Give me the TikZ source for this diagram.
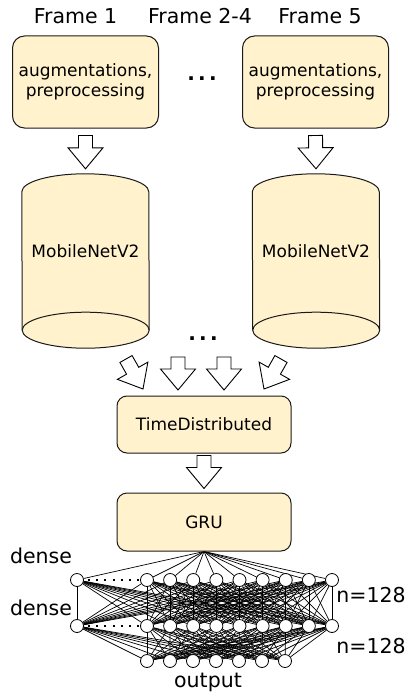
\documentclass[tikz,border=0pt]{standalone}
\usepackage{fontspec}
\setmainfont{DejaVu Sans}
\usetikzlibrary{calc,backgrounds}
\definecolor{boxfill}{HTML}{FFF2CC}
\definecolor{boxline}{HTML}{1A1A1A}

% cylinder outline drawn behind a named node: dome on top, full ellipse at the bottom
\newcommand\cylbody[1]{%
  \begin{scope}[on background layer]
    \filldraw[draw=boxline, fill=boxfill, line width=1pt]
      ([yshift=-18pt]#1.north west)
      arc[start angle=180, end angle=0, x radius=63.5pt, y radius=18pt]
      -- ([yshift=18pt]#1.south east)
      arc[start angle=0, end angle=-180, x radius=63.5pt, y radius=18pt]
      -- cycle;
    \draw[draw=boxline, line width=1pt] ([yshift=18pt]#1.south east)
      arc[start angle=0, end angle=180, x radius=63.5pt, y radius=18pt];
  \end{scope}}

\begin{document}
\begin{tikzpicture}[x=1pt, y=-1pt,
  title/.style={font=\fontsize{20.5}{24}\selectfont, anchor=base, inner sep=0pt},
  lbl/.style={font=\fontsize{20.5}{24}\selectfont, anchor=base, inner sep=0pt},
  ellip/.style={font=\fontsize{20}{24}\selectfont\bfseries, anchor=base, inner sep=0pt},
  stage/.style={draw=boxline, fill=boxfill, line width=1pt, align=center,
    font=\fontsize{17}{19.5}\selectfont, inner sep=0pt},
  cylnode/.style={minimum width=127pt, minimum height=174pt, inner sep=0pt},
  neuron/.style={circle, draw=black, fill=white, minimum size=13pt, inner sep=0pt, line width=0.8pt},
  wire/.style={line width=0.7pt, black},
  dotline/.style={line width=2pt, dash pattern=on 2pt off 6.2pt, dash phase=-4pt},
  blockarrow/.style={draw=black, fill=white, line width=0.9pt, line join=miter,
    to path={let \p1=(\tikztostart), \p2=(\tikztotarget),
      \n1={atan2(\y2-\y1,\x2-\x1)}, \n2={veclen(\x2-\x1,\y2-\y1)-21pt} in
      ($(\p1)+(\n1+90:7pt)$)
      -- ($(\p1)+(\n1:\n2)+(\n1+90:7pt)$)
      -- ($(\p1)+(\n1:\n2)+(\n1+90:17.5pt)$)
      -- (\p2)
      -- ($(\p1)+(\n1:\n2)+(\n1-90:17.5pt)$)
      -- ($(\p1)+(\n1:\n2)+(\n1-90:7pt)$)
      -- ($(\p1)+(\n1-90:7pt)$) -- cycle}},
]
\useasboundingbox (0,0) rectangle (414,693);

% frame headings
\node[title] (f1) at (75.5,24) {Frame 1};
\node[title] (f24) at (200,24) {Frame 2-4};
\node[title] (f5) at (320,24) {Frame 5};

% preprocessing stages
\node[stage, rounded corners=12pt, minimum width=146pt, minimum height=92pt] (pre1) at (85.5,82)
  {augmentations,\\preprocessing};
\node[stage, rounded corners=12pt, minimum width=146pt, minimum height=92pt] (pre5) at (315.5,82)
  {augmentations,\\preprocessing};
\node[ellip] (dots1) at (202,81) {.\hspace{3.2pt}.\hspace{3.2pt}.};

% backbones
\node[cylnode] (cyl1) at (85.5,261) {};
\node[cylnode] (cyl5) at (316,261) {};
\cylbody{cyl1}
\cylbody{cyl5}
\node[font=\fontsize{17}{20}\selectfont, inner sep=0pt] (cyl1t) at ([yshift=10pt]cyl1.center) {MobileNetV2};
\node[font=\fontsize{17}{20}\selectfont, inner sep=0pt] (cyl5t) at ([yshift=10pt]cyl5.center) {MobileNetV2};
\node[ellip] (dots2) at (203,340) {.\hspace{3.2pt}.\hspace{3.2pt}.};

% sequence model
\node[stage, rounded corners=10pt, minimum width=174pt, minimum height=57pt] (td) at (204,424.5) {TimeDistributed};
\node[stage, rounded corners=10pt, minimum width=174pt, minimum height=58pt] (gru) at (204,522) {GRU};

% block arrows
\draw[blockarrow] ([yshift=-7pt]pre1.south) to ([yshift=5pt]cyl1.north);
\draw[blockarrow] ([yshift=-7pt]pre5.south) to ([yshift=5pt]cyl5.north);

\coordinate (ta) at (126,359);  \coordinate (ha) at (143,389);
\coordinate (tb) at (178,357);  \coordinate (hb) at (178,390);
\coordinate (tc) at (224,357);  \coordinate (hc) at (224,390);
\coordinate (tdd) at (281,359); \coordinate (hd) at (264,389);
\draw[blockarrow] (ta) to (ha);
\draw[blockarrow] (tb) to (hb);
\draw[blockarrow] (tc) to (hc);
\draw[blockarrow] (tdd) to (hd);

\draw[blockarrow] ([yshift=-2pt]td.south) to ([yshift=4pt]gru.north);

% dense head
\node[neuron] (a0) at (77,580) {};
\node[neuron] (b0) at (77,626) {};
\foreach \i in {1,...,9} {
  \node[neuron] (a\i) at ({147+23.125*(\i-1)},580) {};
  \node[neuron] (b\i) at ({147+23.125*(\i-1)},626) {};
}
\foreach \i in {1,...,7}
  \node[neuron] (c\i) at ({147+23*(\i-1)},661) {};

\begin{scope}[on background layer]
  \foreach \i in {0,...,9}
    \draw[wire] (gru.south) -- (a\i);
  \foreach \i in {0,...,9}
    \foreach \j in {0,...,9}
      \draw[wire] (a\i) -- (b\j);
  \foreach \i in {0,...,9}
    \foreach \j in {1,...,7}
      \draw[wire] (b\i) -- (c\j);
\end{scope}

\draw[dotline] (a0) -- (a1);
\draw[dotline] (b0) -- (b1);

\node[lbl] (ld1) at (41,563) {dense};
\node[lbl] (ld2) at (41,615) {dense};
\node[lbl] (ln1) at (371,602) {n=128};
\node[lbl] (ln2) at (371,653) {n=128};
\node[lbl] (lout) at (208,687) {output};
\end{tikzpicture}
\end{document}
